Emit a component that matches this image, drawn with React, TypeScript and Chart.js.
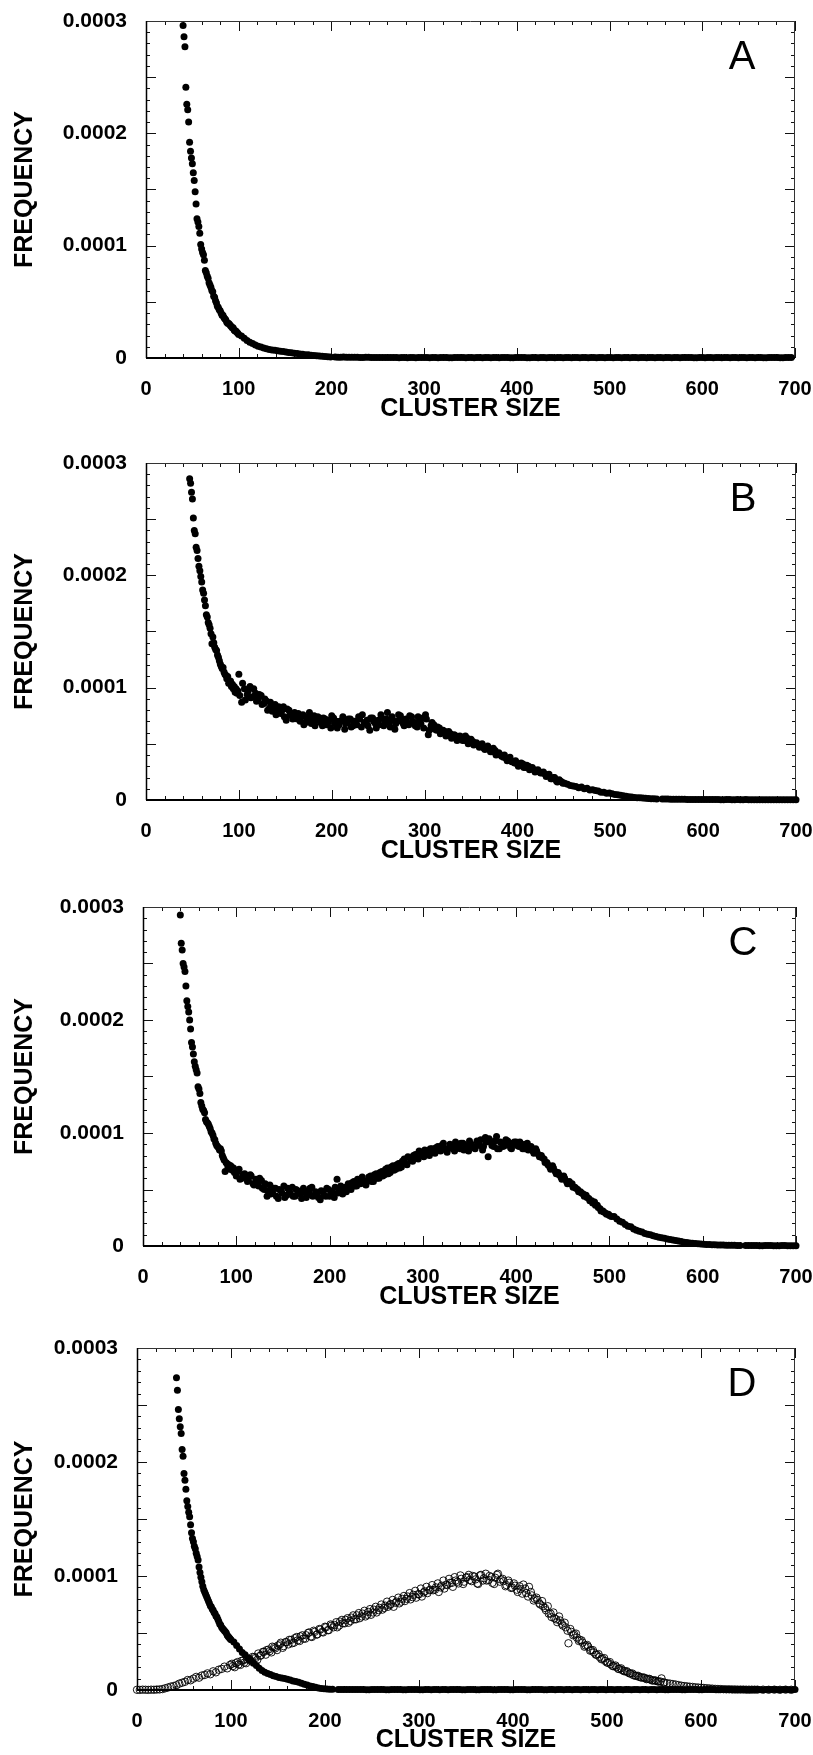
import React, { useEffect, useRef } from 'react';
import { Chart, registerables } from 'chart.js';

Chart.register(...registerables);

const FONT = '"Liberation Sans", Arial, Helvetica, sans-serif';
const xTitle = 'CLUSTER SIZE';
const yTitle = 'FREQUENCY';
const yTickLabels = ['0', '0.0001', '0.0002', '0.0003'];
const panelLetters = ['A', 'B', 'C', 'D'];
const X_MAX = 700;
const Y_MAX = 0.0003;
const FREQ_UNIT = 1e-6; // arrays below are frequencies in units of 1e-6

// ---------- Panel A (cluster size 40..99 step 1, 100.. step 3, 204.. / 207.. step 6) ----------
const freqA1 = [
  296, 286, 277, 241, 226, 221, 210, 192, 184, 178,
  173, 165, 158, 148, 137, 124, 121, 117, 111, 101,
  97, 94, 92, 87, 78, 76, 73, 71, 67, 65,
  63, 60, 59, 55, 54, 51, 49, 46, 45, 43,
  42, 40, 38, 38, 36, 35, 34, 32, 31, 31,
  30, 29, 28, 27, 27, 25, 24, 24, 23, 22,
];
const freqA2 = [
  21, 19.5, 17.5, 15.5, 14, 13, 11.5, 10.5, 9.8, 9,
  8.2, 7.6, 7.1, 6.8, 6.4, 6, 5.8, 5.4, 5, 4.7,
  4.3, 3.9, 3.6, 3.3, 3.0, 2.8, 2.5, 2.3, 2.0, 1.8,
  1.5, 1.3, 1.1, 0.9,
];
const freqA3 = [
  0.8, 0.7, 0.7, 0.6, 0.6, 0.5, 0.6, 0.5, 0.5, 0.4,
  0.5, 0.4, 0.5, 0.3, 0.4, 0.5, 0.4, 0.3, 0.4, 0.5,
  0.4, 0.3, 0.4, 0.4, 0.5, 0.3, 0.4, 0.4, 0.3, 0.4,
  0.5, 0.4, 0.3, 0.4, 0.4, 0.3, 0.5, 0.4, 0.3, 0.4,
  0.4, 0.3, 0.4, 0.5, 0.3, 0.4, 0.4, 0.3, 0.4, 0.4,
  0.3, 0.4, 0.4, 0.3, 0.5, 0.4, 0.3, 0.4, 0.4, 0.3,
  0.4, 0.4, 0.3, 0.4, 0.5, 0.3, 0.4, 0.4, 0.3, 0.4,
  0.4, 0.3, 0.4, 0.4, 0.3, 0.5, 0.4, 0.3, 0.4, 0.4,
  0.3, 0.4, 0.4,
];
const freqA3b = [
  0.7, 0.8, 0.6, 0.6, 0.5, 0.6, 0.5, 0.4, 0.5, 0.5,
  0.4, 0.3, 0.4, 0.5, 0.3, 0.4, 0.5, 0.4, 0.3, 0.4,
  0.3, 0.5, 0.4, 0.3, 0.4, 0.4, 0.3, 0.5, 0.4, 0.3,
  0.4, 0.3, 0.4, 0.5, 0.3, 0.4, 0.3, 0.4, 0.4, 0.3,
  0.5, 0.4, 0.3, 0.4, 0.4, 0.3, 0.4, 0.5, 0.3, 0.4,
  0.4, 0.3, 0.4, 0.4, 0.3, 0.4, 0.5, 0.3, 0.4, 0.4,
  0.3, 0.4, 0.4, 0.5, 0.3, 0.4, 0.3, 0.4, 0.4, 0.3,
  0.4, 0.5, 0.3, 0.4, 0.4, 0.3, 0.4, 0.3, 0.4, 0.4,
  0.3, 0.4,
];

// ---------- Panel B (47.. step 1, 100.. step 3, 101.. step 3, 556.. / 559.. step 6) ----------
const freqB1 = [
  286, 282, 274, 268, 251, 240, 237, 225, 222, 215,
  208, 204, 199, 194, 187, 184, 178, 173, 165, 163, 158, 156, 153, 148,
  139, 145, 140, 136, 134, 133, 129, 127, 124, 121,
  119, 117, 118, 114, 112, 111, 108, 110, 104, 104,
  106, 101, 103, 99, 101, 96, 99, 95, 97,
];
const freqB2 = [
  112, 87, 99, 94, 101, 92, 95, 90, 93, 86,
  88, 82, 79, 85, 81, 77, 83, 71, 80, 75,
  78, 72, 70, 76, 69, 74, 68, 75, 71, 73,
  66, 72, 69, 64, 73, 70, 67, 71, 63, 69,
  72, 66, 70, 74, 65, 69, 71, 62, 73, 68,
  71, 76, 66, 72, 69, 74, 63, 70, 75, 68,
  72, 67, 74, 69, 65, 71, 73, 76, 58, 66,
  67, 62, 64, 60, 61, 58, 59, 56, 57, 55,
  56, 53, 55, 51, 52, 50, 49, 48, 46, 47,
  45, 43, 44, 41, 40, 38, 37, 36, 34, 33,
  32, 31, 32, 29, 30, 28, 27, 26, 25, 24,
  23, 22, 19, 20, 17, 18, 16, 15, 14, 13,
  12.5, 12, 11, 11.5, 10, 10.5, 9, 9.2, 8.5, 8,
  7, 6.8, 6, 6.2, 5.5, 5, 4.6, 4.2, 3.8, 3.3,
  2.8, 2.6, 2.3, 2.1, 1.9, 1.7, 1.5, 1.4, 1.2, 1.1,
  0.9,
];
const freqB2b = [
  93, 104, 89, 97, 91, 99, 88, 94, 85, 90,
  80, 87, 84, 76, 83, 79, 74, 81, 76, 72,
  73, 77, 74, 67, 72, 78, 70, 66, 74, 69,
  73, 67, 71, 75, 68, 64, 70, 74, 68, 72,
  65, 70, 67, 72, 76, 68, 66, 73, 70, 64,
  67, 73, 70, 78, 65, 71, 68, 76, 72, 66,
  69, 75, 70, 66, 74, 68, 64, 72, 62, 69,
  63, 65, 59, 62, 57, 61, 55, 58, 53, 57,
  53, 57, 50, 54, 49, 51, 47, 50, 45, 48,
  43, 46, 40, 42, 39, 40, 35, 38, 34, 35,
  30, 33, 29, 31, 27, 29, 25, 27, 24, 25,
  21, 23, 19, 20, 16, 17, 15,
];
const freqB3 = [
  0.8, 0.8, 0.7, 0.6, 0.6, 0.5, 0.5, 0.4, 0.5, 0.4,
  0.4, 0.3, 0.4, 0.3, 0.3, 0.4, 0.3, 0.3, 0.2, 0.3,
  0.3, 0.2, 0.3, 0.2, 0.2,
];
const freqB3b = [
  0.8, 0.7, 0.7, 0.6, 0.5, 0.5, 0.4, 0.5, 0.4, 0.4,
  0.3, 0.4, 0.3, 0.4, 0.3, 0.3, 0.2, 0.3, 0.3, 0.2,
  0.3, 0.2, 0.2, 0.3,
];

// ---------- Panel C (40.. step 1, 100.. step 3, 101.. step 3, 646.. / 649.. step 6) ----------
const freqC1 = [
  293, 268, 262, 250, 247, 243, 230, 217, 212, 207,
  200, 192, 180, 176, 170, 163, 159, 156, 153, 141,
  139, 135, 127, 124, 121, 120, 118, 112, 110, 109,
  108, 106, 104, 101, 100, 98, 95, 94, 91, 89,
  88, 87, 85, 86, 84, 80, 78, 76, 66, 74,
  73, 70, 72, 68, 71, 70, 67, 69, 65, 66,
];
const freqC2 = [
  62, 68, 60, 64, 57, 63, 55, 59, 53, 58,
  50, 44, 54, 47, 51, 42, 49, 53, 45, 48,
  52, 44, 49, 46, 51, 43, 48, 52, 45, 47,
  41, 48, 44, 50, 47, 43, 59, 49, 46, 52,
  55, 50, 57, 53, 56, 61, 55, 58, 62, 57,
  64, 60, 66, 63, 69, 65, 71, 68, 73, 70,
  77, 72, 78, 75, 81, 77, 83, 79, 84, 80,
  86, 82, 88, 84, 91, 85, 87, 89, 84, 90,
  86, 91, 88, 84, 90, 87, 93, 89, 85, 96,
  79, 92, 88, 97, 86, 91, 89, 93, 87, 91,
  92, 88, 90, 86, 91, 87, 84, 86, 81, 80,
  77, 74, 70, 71, 66, 65, 61, 62, 57, 57,
  55, 52, 50, 48, 46, 45, 42, 40, 39, 36,
  33, 31, 29, 28, 26, 26, 24, 22, 21, 19,
  17.5, 17, 15, 14, 13, 12.5, 11, 10.5, 10, 9,
  8.3, 7.8, 7.2, 6.8, 6.3, 5.8, 5.3, 4.8, 4.4, 4,
  3.3, 3, 2.7, 2.4, 2.2, 2, 1.8, 1.6, 1.4, 1.3,
  1.1, 1, 0.9, 0.9, 0.8, 0.7, 0.7, 0.6, 0.6, 0.5,
  0.5,
];
const freqC2b = [
  66, 59, 63, 61, 58, 62, 54, 57, 60, 51,
  55, 49, 46, 51, 44, 50, 47, 43, 51, 46,
  44, 50, 47, 42, 49, 45, 51, 44, 48, 43,
  49, 45, 51, 44, 48, 52, 47, 53, 50, 48,
  51, 56, 53, 59, 55, 58, 54, 61, 57, 63,
  60, 65, 62, 68, 64, 70, 67, 72, 69, 75,
  73, 79, 76, 80, 78, 84, 80, 85, 82, 86,
  83, 87, 85, 89, 86, 83, 90, 86, 92, 88,
  91, 85, 89, 93, 88, 86, 91, 94, 88, 92,
  95, 89, 93, 86, 92, 88, 94, 90, 86, 92,
  89, 92, 86, 90, 85, 88, 82, 84, 79, 78,
  74, 72, 68, 69, 64, 63, 59, 60, 55, 55,
  52, 51, 48, 47, 44, 43, 40, 38, 36, 34,
  31, 30, 28, 27,
];
const freqC3 = [0.5, 0.4, 0.4, 0.3, 0.4, 0.3, 0.3, 0.4, 0.3, 0.3];
const freqC3b = [0.5, 0.4, 0.3, 0.4, 0.4, 0.3, 0.4, 0.3, 0.3];

// ---------- Panel D, filled circles (42.. step 1, 100.. step 3, 214.. / 217.. step 6) ----------
const freqD1 = [
  274, 263, 246, 238, 231, 225, 211, 205, 190, 184,
  176, 166, 161, 156, 152, 145, 138, 133, 130, 126,
  124, 120, 117, 114, 108, 103, 99, 95, 91, 88,
  86, 84, 82, 80, 78, 76, 74, 73, 71, 70,
  68, 67, 65, 64, 62, 60, 58, 57, 55, 54,
  53, 52, 51, 50, 48, 47, 46, 45,
];
const freqD2 = [
  44, 42, 39, 36, 33, 31, 28, 26, 23.5, 21.5,
  19, 17, 15.5, 14.5, 13.5, 12.5, 11.8, 11, 10.5, 10,
  9.5, 8.8, 8, 7.5, 6.7, 6, 5, 4.4, 3.6, 3,
  2.4, 1.8, 1.4, 1.1, 0.9, 0.7, 0.6,
];
const freqD3 = [
  0.5, 0.5, 0.4, 0.5, 0.4, 0.3, 0.4, 0.5, 0.4, 0.3,
  0.4, 0.4, 0.3, 0.4, 0.5, 0.3, 0.4, 0.4, 0.3, 0.4,
  0.5, 0.4, 0.3, 0.4, 0.4, 0.3, 0.5, 0.4, 0.3, 0.4,
  0.4, 0.3, 0.4, 0.5, 0.3, 0.4, 0.4, 0.3, 0.4, 0.4,
  0.3, 0.4, 0.4, 0.3, 0.5, 0.4, 0.3, 0.4, 0.4, 0.3,
  0.4, 0.4, 0.3, 0.4, 0.5, 0.3, 0.4, 0.4, 0.3, 0.4,
  0.4, 0.3, 0.4, 0.4, 0.3, 0.5, 0.4, 0.3, 0.4, 0.4,
  0.3, 0.4, 0.4, 0.3, 0.4, 0.3, 0.4, 0.4, 0.3, 0.4,
  0.3, 0.4,
];
const freqD3b = [
  0.5, 0.4, 0.5, 0.4, 0.4, 0.3, 0.5, 0.4, 0.3, 0.4,
  0.4, 0.3, 0.4, 0.5, 0.3, 0.4, 0.3, 0.4, 0.4, 0.3,
  0.4, 0.5, 0.3, 0.4, 0.3, 0.4, 0.4, 0.3, 0.5, 0.4,
  0.3, 0.4, 0.4, 0.3, 0.4, 0.5, 0.3, 0.4, 0.3, 0.4,
  0.4, 0.3, 0.4, 0.4, 0.3, 0.5, 0.4, 0.3, 0.4, 0.4,
  0.3, 0.4, 0.5, 0.3, 0.4, 0.4, 0.3, 0.4, 0.3, 0.4,
  0.4, 0.3, 0.5, 0.4, 0.3, 0.4, 0.4, 0.3, 0.4, 0.4,
  0.3, 0.4, 0.3, 0.4, 0.4, 0.3, 0.4, 0.4, 0.3, 0.4,
  0.3,
];

// ---------- Panel D, open circles (0.. step 3, 101.. step 3, 666.. step 6) ----------
const openD1 = [
  0.2, 0.1, 0.3, 0.2, 0.1, 0.3, 0.2, 0.4, 0.5, 0.8,
  1.5, 2.2, 3, 3.5, 4.2, 5.6, 6.4, 7.2, 8.8, 8.5,
  10, 11.5, 10.8, 12.7, 13.2, 14.6, 13.8, 16.4, 15.5, 17.8,
  18.5, 20.5, 19, 22, 21, 23.5, 22.4, 25.5, 24, 27,
  26.5, 29, 28, 32, 30.5, 33.5, 35, 34, 38, 36.5,
  39, 41.5, 38.5, 42, 44, 41, 45.5, 43.5, 47, 45,
  48, 50.5, 46.5, 51, 49, 53, 50.5, 55, 52.5, 56.5,
  57, 55, 60, 58.5, 61.5, 59, 63.5, 62, 65.5, 63,
  67, 64.5, 68.5, 66, 70.5, 68, 72, 70.5, 74, 73,
  75.5, 73, 77.5, 76, 80, 78, 82, 79.5, 83.5, 81,
  84, 82, 86.5, 85, 88, 87.5, 90, 86, 91.5, 89,
  92, 94, 90.5, 96, 93.5, 97.5, 95, 99, 96.5, 100,
  97, 93, 101, 98, 96, 100, 94, 98.5, 102, 97,
  95.5, 92, 94, 90, 91.5, 86, 88.5, 92.5, 85, 90.5,
  83, 80, 79, 75, 73.5, 70, 67, 64, 63, 59.5,
  61, 56.5, 55, 41, 51, 49, 46, 44, 41.5, 39,
  38, 35, 33, 31, 29, 27.5, 25.5, 24, 22.5, 21,
  20, 18.5, 17.5, 16.5, 15.5, 14.5, 13, 12.5, 11.5, 11,
  10.5, 9.8, 9.2, 8.5, 8, 7.5, 10.2, 6.6, 6, 5.6,
  5.2, 4.8, 4.3, 3.8, 3.5, 3.2, 2.9, 2.7, 2.4, 2.2,
  2, 1.8, 1.6, 1.4, 1.2, 1.0, 0.9, 0.8, 0.7, 0.6,
  0.6, 0.5, 0.5, 0.4, 0.4, 0.4, 0.3, 0.3, 0.3, 0.3,
  0.3,
];
const openD1b = [
  23, 20, 24.5, 22, 26, 23.5, 27.5, 25, 29, 26.5,
  30, 33.5, 31, 35.5, 33, 37.5, 35, 40, 37, 42,
  40, 44, 41.5, 46.5, 43, 48, 45, 50, 47, 52,
  48.5, 53.5, 51, 55.5, 52.5, 57.5, 55, 59.5, 56.5, 61.5,
  58.5, 63, 60.5, 65.5, 62, 67.5, 64.5, 69.5, 66, 71,
  68, 73, 70, 75, 72, 77.5, 74.5, 79, 76.5, 81,
  77.5, 82.5, 80, 85, 81.5, 87, 84, 89, 85.5, 90.5,
  87.5, 92, 88, 93.5, 90, 96, 92.5, 97.5, 94, 99,
  95, 100.5, 93, 98.5, 101, 95.5, 99.5, 93.5, 100.5, 96,
  102, 96.5, 99, 93, 101, 95, 97.5, 91, 96, 89.5,
  93.5, 88, 91, 84.5, 89, 82, 86, 78.5, 81, 76,
  78, 72, 73.5, 67, 68, 62, 64.5, 58, 59, 52,
  53.5, 48, 49.5, 43, 43.5, 38, 39.5, 34.5, 35, 31,
  31.5, 27, 28, 24, 24.5, 21, 21.5, 18.5, 19, 16.5,
  16.5, 14.5, 14.5, 12.5, 12.5, 11, 11, 9.5, 9.8, 8.3,
  8.5, 7.5, 7.4, 6.5,
];
const openD2 = [0.3, 0.2, 0.3, 0.2, 0.3, 0.2];

type Pt = { x: number; y: number };
const seg = (start: number, step: number, vals: number[]): Pt[] =>
  vals.map((v, i) => ({ x: start + i * step, y: v * FREQ_UNIT }));

const seriesA = [
  ...seg(40, 1, freqA1), ...seg(100, 3, freqA2), ...seg(204, 6, freqA3), ...seg(207, 6, freqA3b),
];
const seriesB = [
  ...seg(47, 1, freqB1), ...seg(100, 3, freqB2), ...seg(101, 3, freqB2b),
  ...seg(556, 6, freqB3), ...seg(559, 6, freqB3b),
];
const seriesC = [
  ...seg(40, 1, freqC1), ...seg(100, 3, freqC2), ...seg(101, 3, freqC2b),
  ...seg(646, 6, freqC3), ...seg(649, 6, freqC3b),
];
const seriesD = [
  ...seg(42, 1, freqD1), ...seg(100, 3, freqD2), ...seg(214, 6, freqD3), ...seg(217, 6, freqD3b),
];
const seriesDOpen = [...seg(0, 3, openD1), ...seg(101, 3, openD1b), ...seg(666, 6, openD2)];

type PanelCfg = {
  letter: string;
  top: number;
  areaH: number;
  left: number;
  right: number;
  xAxisH: number;
  filled: Pt[];
  open: Pt[] | null;
};

const AREA_TOP = 21;
const CANVAS_W = 813;

const PANELS: PanelCfg[] = [
  { letter: panelLetters[0], top: 0, areaH: 337, left: 146, right: 795, xAxisH: 66, filled: seriesA, open: null },
  { letter: panelLetters[1], top: 442, areaH: 337, left: 146, right: 796, xAxisH: 66, filled: seriesB, open: null },
  { letter: panelLetters[2], top: 886, areaH: 339, left: 143, right: 796, xAxisH: 66, filled: seriesC, open: null },
  { letter: panelLetters[3], top: 1327, areaH: 342, left: 137, right: 795, xAxisH: 65, filled: seriesD, open: seriesDOpen },
];

const frameTicks = {
  id: 'frameTicks',
  beforeDatasetsDraw(chart: any) {
    const { ctx, chartArea, scales } = chart;
    const { left, right, top, bottom } = chartArea;
    const x = scales.x;
    const y = scales.y;
    ctx.save();
    ctx.strokeStyle = '#111';
    ctx.lineWidth = 1;
    ctx.beginPath();
    for (let v = 0; v <= X_MAX; v += 20) {
      const px = Math.round(x.getPixelForValue(v)) + 0.5;
      const len = v % 100 === 0 ? 10 : 4;
      ctx.moveTo(px, bottom);
      ctx.lineTo(px, bottom - len);
      ctx.moveTo(px, top);
      ctx.lineTo(px, top + len);
    }
    for (let k = 0; k <= 30; k++) {
      const py = Math.round(y.getPixelForValue(k * 1e-5)) + 0.5;
      const len = k % 5 === 0 ? 10 : 4;
      ctx.moveTo(left, py);
      ctx.lineTo(left + len, py);
      ctx.moveTo(right, py);
      ctx.lineTo(right - len, py);
    }
    ctx.stroke();
    ctx.strokeStyle = '#333';
    ctx.lineWidth = 1;
    ctx.beginPath();
    ctx.moveTo(left, top + 0.5);
    ctx.lineTo(right, top + 0.5);
    ctx.moveTo(right - 0.5, top);
    ctx.lineTo(right - 0.5, bottom);
    ctx.stroke();
    ctx.strokeStyle = '#000';
    ctx.lineWidth = 1.5;
    ctx.beginPath();
    ctx.moveTo(left + 0.5, top);
    ctx.lineTo(left + 0.5, bottom);
    ctx.stroke();
    ctx.lineWidth = 2;
    ctx.beginPath();
    ctx.moveTo(left, bottom);
    ctx.lineTo(right, bottom);
    ctx.stroke();
    ctx.restore();
  },
  afterDraw(chart: any, _args: any, opts: any) {
    const { ctx, chartArea } = chart;
    ctx.save();
    ctx.fillStyle = '#000';
    ctx.font = `40px ${FONT}`;
    ctx.textAlign = 'center';
    ctx.textBaseline = 'middle';
    ctx.fillText(opts.letter, chartArea.right - 53, chartArea.top + 37);
    ctx.restore();
  },
};

function Panel({ cfg }: { cfg: PanelCfg }) {
  const ref = useRef<HTMLCanvasElement>(null);
  const height = AREA_TOP + cfg.areaH + cfg.xAxisH;

  useEffect(() => {
    if (!ref.current) return;
    const datasets: any[] = [
      {
        data: cfg.filled,
        showLine: false,
        clip: 12,
        pointRadius: 3.5,
        pointBackgroundColor: '#000',
        pointBorderColor: '#000',
        pointBorderWidth: 0,
      },
    ];
    if (cfg.open) {
      datasets.push({
        data: cfg.open,
        showLine: false,
        clip: 12,
        pointRadius: 3.7,
        pointBackgroundColor: 'rgba(0,0,0,0)',
        pointBorderColor: '#000',
        pointBorderWidth: 0.9,
      });
    }
    const chart = new Chart(ref.current, {
      type: 'scatter',
      data: { datasets },
      plugins: [frameTicks],
      options: {
        animation: false,
        responsive: false,
        events: [],
        layout: { padding: { left: 0, right: CANVAS_W - cfg.right, top: AREA_TOP, bottom: 0 } },
        plugins: {
          legend: { display: false },
          tooltip: { enabled: false },
          frameTicks: { letter: cfg.letter },
        } as any,
        scales: {
          x: {
            type: 'linear',
            min: 0,
            max: X_MAX,
            afterFit: (s: any) => {
              s.height = cfg.xAxisH;
            },
            grid: { display: false, drawTicks: true, tickLength: 19 },
            border: { display: false },
            ticks: {
              stepSize: 100,
              padding: 0,
              maxRotation: 0,
              autoSkip: false,
              color: '#000',
              font: { family: FONT, size: 20, weight: 'bold' },
            },
            title: {
              display: true,
              text: xTitle,
              color: '#000',
              font: { family: FONT, size: 25, weight: 'bold' },
              padding: { top: 0, bottom: 0 },
            },
          },
          y: {
            type: 'linear',
            min: 0,
            max: Y_MAX,
            afterFit: (s: any) => {
              s.width = cfg.left;
            },
            grid: { display: false, drawTicks: true, tickLength: 19 },
            border: { display: false },
            ticks: {
              stepSize: 0.0001,
              padding: 0,
              color: '#000',
              font: { family: FONT, size: 21, weight: 'bold' },
              callback: (v: any) => yTickLabels[Math.round(Number(v) / 0.0001)] ?? '',
            },
            title: {
              display: true,
              text: yTitle,
              color: '#000',
              font: { family: FONT, size: 25, weight: 'bold' },
              padding: { top: 10, bottom: 0 },
            },
          },
        },
      } as any,
    });
    return () => chart.destroy();
  }, []);

  return (
    <canvas
      ref={ref}
      width={CANVAS_W}
      height={height}
      style={{ position: 'absolute', left: 0, top: cfg.top, width: CANVAS_W, height, display: 'block' }}
    />
  );
}

export default function App() {
  return (
    <div
      style={{
        position: 'absolute',
        left: 0,
        top: 0,
        width: 813,
        height: 1755,
        overflow: 'hidden',
        background: '#fff',
      }}
    >
      {PANELS.map((p) => (
        <Panel key={p.letter} cfg={p} />
      ))}
    </div>
  );
}
